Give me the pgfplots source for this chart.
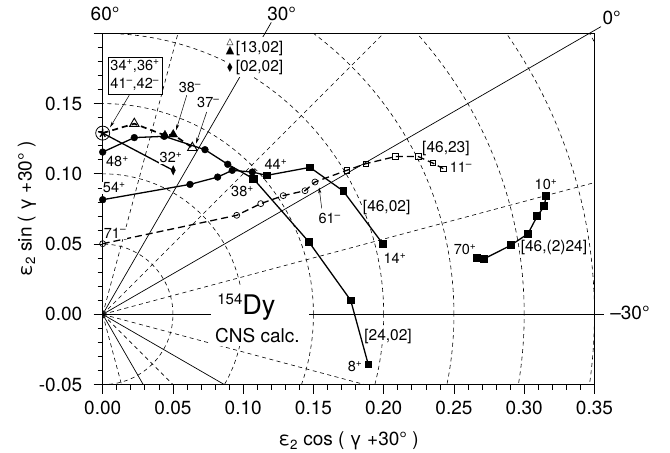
\documentclass[border=0pt]{standalone}
\usepackage{pgfplots}
\pgfplotsset{compat=1.18}
\usetikzlibrary{arrows.meta}
\usepackage{fontspec}
\setmainfont{TeX Gyre Heros}
\newfontfamily\dejavu{DejaVu Sans}
\newcommand\fs[1]{\fontsize{#1}{#1}\selectfont}
\begin{document}
\begin{tikzpicture}[
  grid/.style={line width=0.6pt, dash pattern=on 4pt off 3.5pt},
  rad/.style={line width=0.7pt},
  lab/.style={fill=white, inner sep=0.5pt, font=\fs{14.5}},
  blab/.style={fill=white, inner sep=0.5pt, font=\fs{15.5}},
  ang/.style={inner sep=0pt, font=\fs{19}},
  arr/.style={line width=0.5pt, -{Stealth[length=6pt,width=3pt]}}
]
\begin{axis}[
  at={(0,0)}, anchor=south west,
  scale only axis, width=491.75pt, height=351.25pt,
  xmin=0, xmax=0.35, ymin=-0.05, ymax=0.2,
  clip=false,
  axis line style={line width=0.8pt},
  tick align=outside, tick pos=left,
  major tick length=9pt, minor tick length=5pt,
  tick style={black, line width=0.7pt},
  xtick={0,0.05,0.1,0.15,0.2,0.25,0.3,0.35},
  xticklabels={0.00,0.05,0.10,0.15,0.20,0.25,0.30,0.35},
  ytick={-0.05,0,0.05,0.1,0.15,0.2},
  yticklabels={-0.05,0.00,0.05,0.10,0.15,{}},
  minor x tick num=4, minor y tick num=4,
  ticklabel style={font=\fs{19}},
  xticklabel style={yshift=-4pt},
  yticklabel style={xshift=-8pt},
]
% ---- polar grid (clipped) ----
\begin{scope}
\clip (axis cs:0,-0.05) rectangle (axis cs:0.35,0.2);
\draw[grid] (axis cs:0,0) circle[radius=0.05];
\draw[grid] (axis cs:0,0) circle[radius=0.10];
\draw[grid] (axis cs:0,0) circle[radius=0.15];
\draw[grid] (axis cs:0,0) circle[radius=0.20];
\draw[grid] (axis cs:0,0) circle[radius=0.25];
\draw[grid] (axis cs:0,0) circle[radius=0.30];
\draw[grid] (axis cs:0,0) circle[radius=0.35];
\draw[grid] (axis cs:0,0) circle[radius=0.40];
\draw[grid] (axis cs:0,0) -- (axis cs:0.483,0.1294);
\draw[grid] (axis cs:0,0) -- (axis cs:0.3536,0.3536);
\draw[grid] (axis cs:0,0) -- (axis cs:0.1294,0.483);
\draw[grid] (axis cs:0,0) -- (axis cs:0.483,-0.1294);
\draw[grid] (axis cs:0,0) -- (axis cs:0.3536,-0.3536);
\draw[grid] (axis cs:0,0) -- (axis cs:0.1294,-0.483);
\draw[rad] (axis cs:0,0) -- (axis cs:0.433,-0.25);
\draw[rad] (axis cs:0,0) -- (axis cs:0.25,-0.433);
\end{scope}
% solid sector lines with extensions
\draw[rad] (axis cs:0,0) -- (axis cs:0.3547,0.2048);
\draw[rad] (axis cs:0,0) -- (axis cs:0.1200,0.2078);
\draw[rad] (axis cs:0,0) -- (axis cs:0.3565,0);
% white box for 154Dy
\fill[white] (axis cs:0.0768,0.0192) rectangle (axis cs:0.147,-0.0228);
\node[anchor=base west, inner sep=0pt] at (axis cs:0.0815,0) {\fs{27}\raisebox{9.4pt}{\fs{15}154}Dy};
\node[anchor=base west, inner sep=0pt] at (axis cs:0.0799,-0.0197) {\fs{19}CNS calc.};

% ---- [24,02] ----
\addplot[black, line width=1.3pt] coordinates {(0,0.1155)(0.0225,0.1258)(0.0438,0.1267)(0.0728,0.1172)(0.089,0.1068)(0.1072,0.0966)(0.1468,0.0515)(0.1765,0.010)(0.189,-0.0356)};
\addplot[black, only marks, mark=*, mark size=3.4pt] coordinates {(0,0.1155)(0.0225,0.1258)(0.0438,0.1267)(0.0728,0.1172)(0.089,0.1068)};
\addplot[black, only marks, mark=square*, mark size=3.3pt] coordinates {(0.1468,0.0515)(0.1765,0.010)(0.189,-0.0356)};
\addplot[black, only marks, mark=square*, mark size=3.8pt] coordinates {(0.1072,0.0966)};
% ---- [46,02] ----
\addplot[black, line width=1.3pt] coordinates {(0,0.0816)(0.0621,0.0925)(0.0818,0.0977)(0.0922,0.1025)(0.1065,0.1013)(0.1167,0.0989)(0.1475,0.1046)(0.1712,0.0878)(0.1993,0.0503)};
\addplot[black, only marks, mark=*, mark size=3.4pt] coordinates {(0,0.0816)(0.0621,0.0925)(0.0818,0.0977)(0.0922,0.1025)(0.1065,0.1013)};
\addplot[black, only marks, mark=square*, mark size=3.3pt] coordinates {(0.1167,0.0989)(0.1475,0.1046)(0.1712,0.0878)(0.1993,0.0503)};
% ---- [46,(2)24] ----
\addplot[black, line width=1.3pt, mark=square*, mark size=3.3pt] coordinates {(0.2662,0.0401)(0.2716,0.0396)(0.2904,0.0491)(0.3027,0.0574)(0.3093,0.070)(0.3143,0.0769)(0.3155,0.084)};
% ---- [46,23] ----
\addplot[black, line width=1.3pt, dash pattern=on 7pt off 4pt] coordinates {(0,0.0503)(0.0954,0.0705)(0.1125,0.0788)(0.1285,0.0845)(0.144,0.088)(0.1511,0.0942)(0.1737,0.1025)(0.1872,0.1072)(0.2083,0.1123)(0.2246,0.1123)(0.2349,0.1077)(0.2424,0.1037)};
\addplot[black, only marks, mark=o, mark size=3pt, mark options={fill=white, line width=0.7pt}] coordinates {(0,0.0503)(0.0954,0.0705)(0.1125,0.0788)(0.1285,0.0845)(0.144,0.088)(0.1511,0.0942)};
\addplot[black, only marks, mark=square, mark size=2.8pt, mark options={fill=white, line width=0.7pt}] coordinates {(0.1737,0.1025)(0.1872,0.1072)(0.2083,0.1123)(0.2246,0.1123)(0.2349,0.1077)(0.2424,0.1037)};
% ---- [02,02] ----
\addplot[black, line width=1.3pt] coordinates {(0,0.129)(0.0502,0.1025)};
\addplot[black, only marks, mark=diamond*, mark size=4.5pt, mark options={xscale=0.65}] coordinates {(0.0502,0.1025)};
% ---- [13,02] ----
\addplot[black, line width=1.7pt, dash pattern=on 6pt off 4pt] coordinates {(0,0.129)(0.0225,0.1357)(0.0443,0.1274)(0.0502,0.128)(0.0638,0.1186)};
\addplot[black, only marks, mark=triangle, mark size=5.5pt, mark options={fill=white, line width=0.9pt}] coordinates {(0.0225,0.1357)(0.0638,0.1186)};
\addplot[black, only marks, mark=triangle*, mark size=5pt] coordinates {(0.0443,0.1274)(0.0502,0.128)};
% ---- circled star ----
\addplot[black, only marks, mark=o, mark size=7pt, mark options={fill=white, line width=0.8pt}] coordinates {(0,0.129)};
\addplot[black, only marks, mark=star, mark size=4.5pt, mark options={line width=1.4pt}] coordinates {(0,0.129)};

% ---- labels ----
\node[lab] at (axis cs:0.0105,0.1089) {48\textsuperscript{+}};
\node[lab] at (axis cs:0.0082,0.0900) {54\textsuperscript{+}};
\node[lab] at (axis cs:0.0088,0.0580) {71\textsuperscript{–}};
\node[lab] at (axis cs:0.0486,0.1114) {32\textsuperscript{+}};
\node[lab] at (axis cs:0.1233,0.1068) {44\textsuperscript{+}};
\node[lab] at (axis cs:0.0995,0.0875) {38\textsuperscript{+}};
\node[lab] at (axis cs:0.1616,0.0681) {61\textsuperscript{–}};
\node[lab] at (axis cs:0.2080,0.0399) {14\textsuperscript{+}};
\node[lab] at (axis cs:0.3155,0.0925) {10\textsuperscript{+}};
\node[lab] at (axis cs:0.2579,0.0463) {70\textsuperscript{+}};
\node[lab] at (axis cs:0.1796,-0.0370) {8\textsuperscript{+}};
\node[lab] at (axis cs:0.2550,0.1048) {11\textsuperscript{–}};
\node[lab] at (axis cs:0.0621,0.1612) {38\textsuperscript{–}};
\node[lab] at (axis cs:0.0752,0.1505) {37\textsuperscript{–}};
\node[blab] at (axis cs:0.3212,0.0477) {[46,(2)24]};
\node[blab] at (axis cs:0.2021,0.0762) {[46,02]};
\node[blab] at (axis cs:0.2031,-0.0157) {[24,02]};
\node[blab] at (axis cs:0.2443,0.1179) {[46,23]};
\draw[arr] (axis cs:0.0598,0.1559) -- (axis cs:0.0522,0.1310);
\draw[arr] (axis cs:0.0740,0.1440) -- (axis cs:0.0664,0.1215);
\draw[arr] (axis cs:0.1559,0.0754) -- (axis cs:0.1540,0.0904);
\draw[arr] (axis cs:0.0189,0.1560) -- (axis cs:0.0052,0.1330);
\node[draw, line width=0.6pt, fill=white, inner xsep=2.5pt, inner ysep=3pt, align=left, font=\fs{14.5}] at (axis cs:0.023,0.1701) {34\textsuperscript{+},36\textsuperscript{+}\\[4pt]41\textsuperscript{–},42\textsuperscript{–}};
% key
\fill[white] (axis cs:0.0871,0.1972) rectangle (axis cs:0.1289,0.1687);
\node[inner sep=0pt, font=\fs{15.5}] at (axis cs:0.1116,0.1893) {[13,02]};
\node[inner sep=0pt, font=\fs{15.5}] at (axis cs:0.1116,0.1754) {[02,02]};
\node[inner sep=0pt, font=\dejavu\fs{9}] at (axis cs:0.0906,0.1940) {△};
\node[inner sep=0pt, font=\dejavu\fs{11}] at (axis cs:0.0906,0.1877) {▲};
\node[inner sep=0pt, font=\dejavu\fs{13}, xscale=0.7] at (axis cs:0.0906,0.1758) {♦};
% angle labels
\node[ang] at (axis cs:0.0017,0.2140) {60°};
\node[ang] at (axis cs:0.1274,0.2135) {30°};
\node[ang] at (axis cs:0.3623,0.2107) {0°};
\node[ang] at (axis cs:0.3753,0.0007) {–30°};
% axis labels
\node[anchor=base, inner sep=0pt, font=\fs{19}] at (axis cs:0.175,-0.0936) {ε\textsubscript{2} cos ( γ +30° )};
\node[rotate=90, inner sep=0pt, font=\fs{19}] at (axis cs:-0.0539,0.075) {ε\textsubscript{2} sin ( γ +30° )};
\end{axis}
\pgfresetboundingbox
\path[use as bounding box] (-102.7pt,-68.3pt) rectangle (567.3pt,384.6pt);
\end{tikzpicture}
\end{document}
